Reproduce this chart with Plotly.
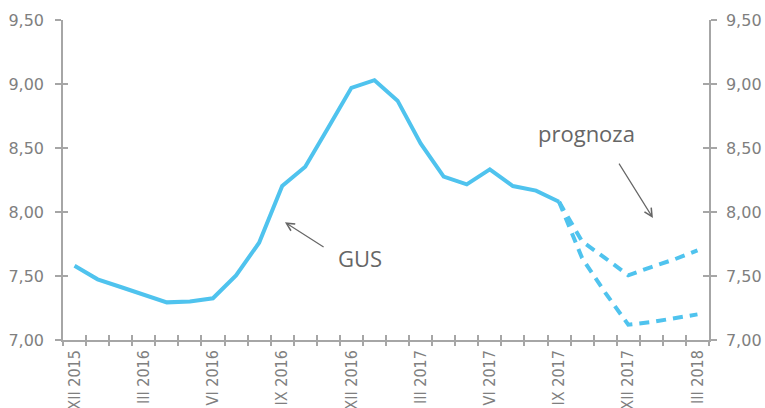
import plotly.graph_objects as go

months = ["XII 2015", "I 2016", "II 2016", "III 2016", "IV 2016", "V 2016", "VI 2016",
          "VII 2016", "VIII 2016", "IX 2016", "X 2016", "XI 2016", "XII 2016",
          "I 2017", "II 2017", "III 2017", "IV 2017", "V 2017", "VI 2017",
          "VII 2017", "VIII 2017", "IX 2017", "X 2017", "XI 2017", "XII 2017",
          "I 2018", "II 2018", "III 2018"]
gus = [7.58, 7.474, 7.414, 7.354, 7.294, 7.30, 7.326, 7.505, 7.76, 8.203, 8.354,
       8.66, 8.97, 9.03, 8.87, 8.536, 8.276, 8.216, 8.333, 8.203, 8.167, 8.08]
forecast_months = months[21:]
forecast_high = [8.08, 7.77, 7.64, 7.505, 7.57, 7.63, 7.70]
forecast_low = [8.08, 7.64, 7.37, 7.12, 7.14, 7.17, 7.20]
label_months = months[::3]
y_ticks = [7.0, 7.5, 8.0, 8.5, 9.0, 9.5]

idx = {m: i for i, m in enumerate(months)}
LINE = "#4FC3EE"
AX = "#A6A6A6"
TXT = "#7F7F7F"
YFONT = "DejaVu Sans"
XFONT = "DejaVu Sans Condensed"

fig = go.Figure()
fig.add_trace(go.Scatter(x=[idx[m] for m in months[:len(gus)]], y=gus, mode="lines",
                         line=dict(color=LINE, width=4), showlegend=False, hoverinfo="skip"))
for ser in (forecast_high, forecast_low):
    fig.add_trace(go.Scatter(x=[idx[m] for m in forecast_months], y=ser, mode="lines",
                             line=dict(color=LINE, width=4, dash="10px,7px"),
                             showlegend=False, hoverinfo="skip"))
# empty traces to activate overlay axes
fig.add_trace(go.Scatter(x=[], y=[], xaxis="x2", yaxis="y3", showlegend=False))
fig.add_trace(go.Scatter(x=[], y=[], xaxis="x2", yaxis="y2", showlegend=False))
fig.add_trace(go.Scatter(x=[], y=[], xaxis="x2", yaxis="y4", showlegend=False))

xr = [-0.5, len(months) - 0.5]
yr = [7.0, 9.5]
bounds = [k - 0.5 for k in range(len(months) + 1)]

fig.update_layout(
    width=765, height=408,
    margin=dict(l=63, r=56, t=20, b=68),
    paper_bgcolor="white", plot_bgcolor="white",
    separators=", ",
    hovermode=False,
    xaxis=dict(range=xr, tickvals=[idx[m] for m in label_months], ticktext=label_months,
               tickangle=-90, ticks="", showgrid=False, zeroline=False, automargin=False,
               showline=True, linecolor=AX, linewidth=1.5, ticklabelstandoff=2,
               tickfont=dict(family=XFONT, size=16, color=TXT),
               minor=dict(tickmode="array", tickvals=bounds, ticks="outside", ticklen=4,
                          tickcolor=AX, tickwidth=1.5, showgrid=False)),
    xaxis2=dict(range=xr, overlaying="x", tickvals=bounds, ticks="inside", ticklen=5,
                tickcolor=AX, tickwidth=1.5, showticklabels=False, showgrid=False,
                zeroline=False, showline=False, anchor="y", automargin=False),
    yaxis=dict(range=yr, tickvals=y_ticks, tickformat=".2f", ticks="outside", ticklen=6,
               tickcolor=AX, tickwidth=1.5, showgrid=False, zeroline=False, automargin=False,
               showline=True, linecolor=AX, linewidth=1.5, ticklabelstandoff=8,
               tickfont=dict(family=YFONT, size=16, color=TXT)),
    yaxis3=dict(range=yr, overlaying="y", tickvals=y_ticks, ticks="inside", ticklen=5,
                tickcolor=AX, tickwidth=1.5, showticklabels=False, showgrid=False,
                zeroline=False, showline=False, anchor="x", automargin=False),
    yaxis2=dict(range=yr, overlaying="y", side="right", tickvals=y_ticks, tickformat=".2f",
                ticks="outside", ticklen=6, tickcolor=AX, tickwidth=1.5, showgrid=False,
                zeroline=False, showline=True, linecolor=AX, linewidth=1.5,
                ticklabelstandoff=6, anchor="x", automargin=False,
                tickfont=dict(family=YFONT, size=16, color=TXT)),
    yaxis4=dict(range=yr, overlaying="y", side="right", tickvals=y_ticks, ticks="inside",
                ticklen=6, tickcolor=AX, tickwidth=1.5, showticklabels=False,
                showgrid=False, zeroline=False, showline=False, anchor="x", automargin=False),
)

ANN = "#666666"
fig.add_annotation(x=9.12, y=7.92, ax=10.86, ay=7.72, xref="x", yref="y", axref="x", ayref="y",
                   text="", showarrow=True, arrowhead=5, arrowsize=1.3, arrowwidth=1.2,
                   arrowcolor=ANN)
fig.add_annotation(x=25.07, y=7.953, ax=23.56, ay=8.39, xref="x", yref="y", axref="x", ayref="y",
                   text="", showarrow=True, arrowhead=5, arrowsize=1.3, arrowwidth=1.2,
                   arrowcolor=ANN)
fig.add_annotation(x=12.37, y=7.64, xref="x", yref="y", text="GUS", showarrow=False,
                   font=dict(family="Open Sans", size=22, color=ANN))
fig.add_annotation(x=22.17, y=8.62, xref="x", yref="y", text="prognoza", showarrow=False,
                   font=dict(family="Open Sans", size=22, color=ANN))

fig.write_html("out.html", config={"displayModeBar": False},
               post_script="document.body.style.margin='0';")
